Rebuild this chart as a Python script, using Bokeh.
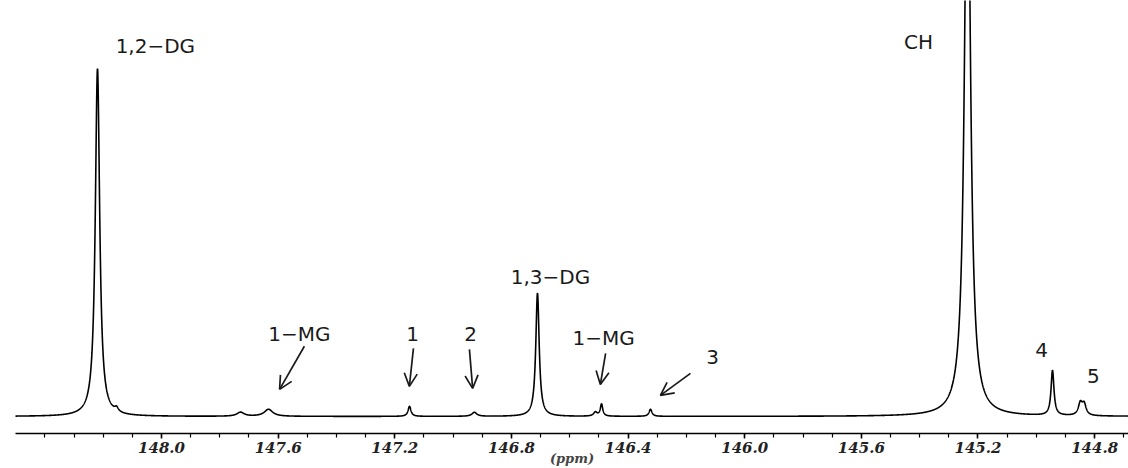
import numpy as np
from bokeh.plotting import figure
from bokeh.models import Range1d, FixedTicker, Arrow, OpenHead, ColumnDataSource, PrintfTickFormatter
from bokeh.core.properties import value
from bokeh.embed import file_html
from bokeh.resources import INLINE

# Peak table (ppm, height above baseline, FWHM in ppm)
peak_ppm = [148.2195, 148.154, 147.729, 147.633, 147.1495, 146.927, 146.7106,
            146.512, 146.491, 146.323, 145.236, 144.9444, 144.849, 144.836]
peak_height = [347, 4, 4, 7, 10, 4, 123, 4, 12, 7, 620, 45, 12, 11]
peak_width = [0.018, 0.015, 0.03, 0.035, 0.012, 0.02, 0.014, 0.015, 0.010,
              0.012, 0.024, 0.012, 0.016, 0.016]

# Axis ticks
tick_major = [148.0, 147.6, 147.2, 146.8, 146.4, 146.0, 145.6, 145.2, 144.8]
tick_minor = [round(148.4 - 0.1 * i, 1) for i in range(38)]

# Annotations (text, ppm, intensity)
label_text = ["1,2\u2212DG", "CH", "1,3\u2212DG", "1\u2212MG", "1", "2", "1\u2212MG", "3", "4", "5"]
label_ppm = [148.021, 145.404, 146.666, 147.527, 147.139, 146.940, 146.484, 146.110, 144.982, 144.804]
label_int = [370, 374, 139, 82, 82, 82, 78, 59, 66, 40]

arrow_x0 = [147.510, 147.136, 146.944, 146.477, 146.186]
arrow_y0 = [70, 68, 67, 63, 43]
arrow_x1 = [147.595, 147.150, 146.933, 146.495, 146.289]
arrow_y1 = [27, 30, 28, 32, 21]

# Build spectrum from the peak table (Lorentzian lines)
ppm = np.arange(144.680, 148.505, 0.0005)
inten = np.zeros_like(ppm)
for c, h, w in zip(peak_ppm, peak_height, peak_width):
    inten += h / (1.0 + (2.0 * (ppm - c) / w) ** 2)

p = figure(width=1128, height=468, output_backend="svg", toolbar_location=None,
           x_range=Range1d(148.5007, 144.6838), y_range=Range1d(-17, 415),
           min_border_left=15, min_border_right=0, min_border_top=0, min_border_bottom=0)
p.outline_line_color = None
p.xgrid.visible = False
p.ygrid.visible = False
p.yaxis.visible = False
p.background_fill_color = "white"

p.line(ppm, inten, line_color="black", line_width=1.6)

xa = p.xaxis[0]
xa.ticker = FixedTicker(ticks=tick_major, minor_ticks=tick_minor)
xa.formatter = PrintfTickFormatter(format="%.1f")
xa.axis_line_color = "black"
xa.axis_line_width = 1.5
xa.major_tick_in = 0
xa.major_tick_out = 5
xa.minor_tick_in = 0
xa.minor_tick_out = 4
xa.major_tick_line_width = 1.5
xa.minor_tick_line_width = 1.2
xa.major_label_text_font = "DejaVu Serif"
xa.major_label_text_font_style = "bold italic"
xa.major_label_text_font_size = "15px"
xa.major_label_text_color = "#222222"
xa.major_label_standoff = 3
xa.axis_label = "(ppm)"
xa.axis_label_text_font = "DejaVu Serif"
xa.axis_label_text_font_style = "bold italic"
xa.axis_label_text_font_size = "13px"
xa.axis_label_standoff = -5

src = ColumnDataSource(dict(x=label_ppm, y=label_int, t=label_text))
p.text(x="x", y="y", text="t", source=src, text_font=value("DejaVu Sans"),
       text_font_size="20px", text_align="center", text_baseline="middle",
       text_color="#1a1a1a")

for x0, y0, x1, y1 in zip(arrow_x0, arrow_y0, arrow_x1, arrow_y1):
    p.add_layout(Arrow(x_start=x0, y_start=y0, x_end=x1, y_end=y1,
                       line_color="#1a1a1a", line_width=1.7,
                       end=OpenHead(size=13, line_color="#1a1a1a", line_width=1.7)))

open("out.html", "w").write(file_html(p, INLINE))
